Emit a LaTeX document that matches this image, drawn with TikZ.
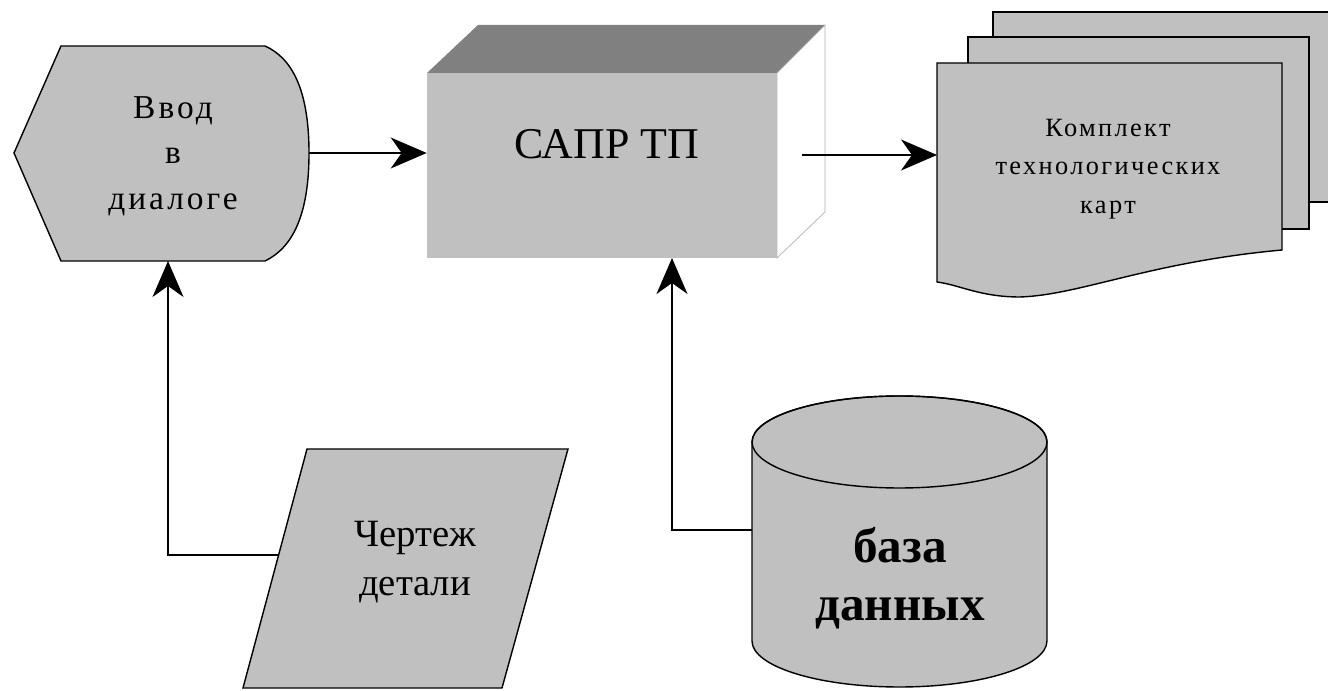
\documentclass[tikz,border=0pt]{standalone}
\usepackage{fontspec}
\setmainfont{Liberation Serif}
\newfontfamily\figspaced[LetterSpace=9]{Liberation Serif}
\usepackage{xcolor}
\usetikzlibrary{arrows.meta}
\usetikzlibrary{calc}
\definecolor{figsilver}{HTML}{C0C0C0}
\definecolor{figtopgray}{HTML}{808080}
\tikzset{
  figshape/.style={fill=figsilver, draw=black, line width=0.8pt},
  figline/.style={draw=black, line width=0.8pt},
  figarrow/.style={line width=0.8pt, -{Stealth[length=0.72cm, width=0.62cm, inset=0.22cm]}},
}

\begin{document}
\begin{tikzpicture}[x=0.02cm, y=0.02cm]
        \newcommand{\figcylrx}{2.95cm}
        \newcommand{\figcylry}{0.92cm}
        \newcommand{\figcylxa}{752}
        \newcommand{\figcylxb}{1047}
        \newcommand{\figcyltop}{248}
        \newcommand{\figcylbot}{49}
        \clip (0,0) rectangle (1328,690);
        \fill[white] (0,0) rectangle (1328,690);
        \draw[figshape] (61,644) -- (265,644) .. controls (292,632) and (309,600) .. (309,537)
            .. controls (309,474) and (292,442) .. (265,429) -- (61,429) -- (14,537) -- cycle;
        \node[font=\figspaced\fontsize{19}{26}\selectfont, align=center] (vvod) at (173,534) {Ввод\\в\\диалоге};
        \coordinate (vvod-e) at (309,537);
        \coordinate (vvod-s) at (168,429);
        \fill[figtopgray] (427,617) -- (777,617) -- (825,665) -- (478,665) -- cycle;
        \filldraw[fill=white, draw=gray!60] (777,617) -- (825,665) -- (825,478) -- (777,432) -- cycle;
        \node[fill=figsilver, minimum width=7cm, minimum height=3.7cm, inner sep=0pt] (sapr) at (602,524.5) {};
        \node[font=\fontsize{25}{30}\selectfont] (saprtext) at (607,546) {САПР ТП};
        \coordinate (sapr-out) at (802,535);
        \coordinate (sapr-s) at (672,432);
        \draw[figshape] (993,488) rectangle (1340,678);
        \draw[figshape] (968,461) rectangle (1309,653);
        \draw[figshape] (937,627) -- (1282,627) -- (1282,440) .. controls (1150,428) and (1080,395) .. (1020,393)
            .. controls (980,393) and (960,405) .. (937,408) -- cycle;
        \node[font=\figspaced\fontsize{15}{22}\selectfont, align=center] (komplekt) at (1108,521) {Комплект\\технологических\\карт};
        \coordinate (komplekt-w) at (937,535);
        \draw[figshape] (307,241) -- (568,241) -- (502,2) -- (243,2) -- cycle;
        \node[font=\fontsize{22}{28}\selectfont, align=center] (chertezh) at (415,128) {Чертеж\\детали};
        \coordinate (chertezh-w) at (279,135);
        \draw[figshape] (\figcylxa,\figcyltop) -- (\figcylxa,\figcylbot)
            arc[start angle=180, end angle=360, x radius=\figcylrx, y radius=\figcylry]
            -- (\figcylxb,\figcyltop)
            arc[start angle=0, end angle=180, x radius=\figcylrx, y radius=\figcylry] -- cycle;
        \draw[figline] (899.5,\figcyltop) ellipse [x radius=\figcylrx, y radius=\figcylry];
        \node[font=\bfseries\fontsize{28}{33}\selectfont, align=center] (baza) at (900,112) {база\\данных};
        \coordinate (baza-w) at (\figcylxa,160);
        \draw[figarrow] (vvod-e) -- (vvod-e -| sapr.west);
        \draw[figarrow] (sapr-out) -- (komplekt-w);
        \draw[figarrow] (chertezh-w) -| (vvod-s);
        \draw[figarrow] (baza-w) -| (sapr-s);
\end{tikzpicture}
\end{document}
